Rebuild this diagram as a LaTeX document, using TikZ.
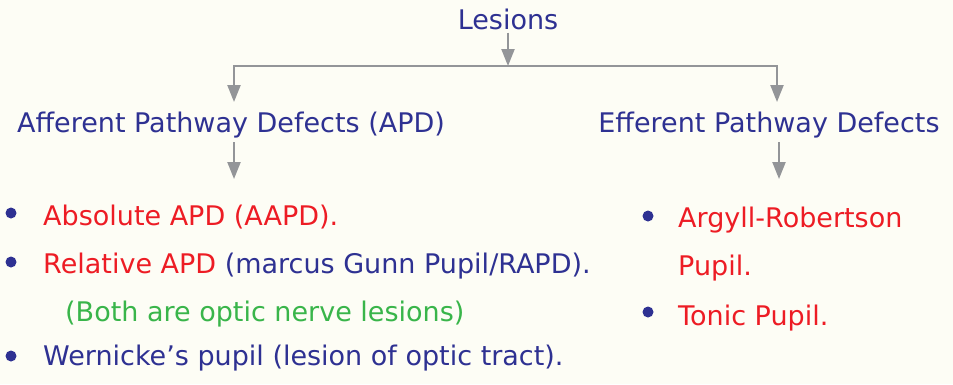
\documentclass[tikz,border=0pt]{standalone}
\usepackage{fontspec}
\setmainfont{DejaVu Sans}
\usetikzlibrary{arrows.meta}

\definecolor{paper}{HTML}{FDFDF5}
\definecolor{inkblue}{HTML}{2E3192}
\definecolor{inkred}{HTML}{ED1C24}
\definecolor{inkgreen}{HTML}{39B54A}
\definecolor{arrowgrey}{HTML}{939598}

\begin{document}
\begin{tikzpicture}[>={Triangle[width=13pt,length=17pt]},
  link/.style={draw=arrowgrey, line width=2.2pt},
  head/.style={text=inkblue, inner sep=0pt, font=\fontsize{27}{32}\selectfont},
  item/.style={anchor=west, inner sep=0pt, text=inkblue, font=\fontsize{27}{32}\selectfont},
  dot/.style={circle, fill=inkblue, minimum size=11pt, inner sep=0pt}]
  \fill[paper] (0pt, 0pt) rectangle (953pt, -384pt);

  % headings
  \draw (508.0pt, -19.0pt)node[head](les){Lesions};
  \draw (231.0pt, -125.0pt)node[head](aff){Afferent Pathway Defects (APD)};
  \draw (769.0pt, -125.0pt)node[head](eff){Efferent Pathway Defects};

  % fork below the top heading
  \coordinate (fork) at (508.0pt, -66.0pt);
  \coordinate (affin) at (234.0pt, -102.0pt);
  \coordinate (effin) at (777.0pt, -102.0pt);
  \coordinate (affout) at (234.0pt, -179.0pt);
  \coordinate (effout) at (779.0pt, -179.0pt);
  \draw[link, ->, shorten <=3pt] (les) -- (fork);
  \draw[link, ->] (fork) -| (affin);
  \draw[link, ->] (fork) -| (effin);
  \draw[link, ->, shorten <=4pt] (aff.south -| affout) -- (affout);
  \draw[link, ->, shorten <=4pt] (eff.south -| effout) -- (effout);

  % afferent list
  \draw (11.0pt, -213.0pt)node[dot](d1){};
  \draw (43.0pt, -217.0pt)node[item, text=inkred](a1){Absolute APD (AAPD).};
  \draw (11.0pt, -262.0pt)node[dot](d2){};
  \draw (43.0pt, -266.0pt)node[item](a2){\textcolor{inkred}{Relative APD} (marcus Gunn Pupil/RAPD).};
  \draw (65.0pt, -314.0pt)node[item, text=inkgreen](a3){(Both are optic nerve lesions)};
  \draw (11.0pt, -356.0pt)node[dot](d3){};
  \draw (43.0pt, -358.0pt)node[item](a4){Wernicke’s pupil (lesion of optic tract).};

  % efferent list
  \draw (648.0pt, -216.0pt)node[dot](d4){};
  \draw (678.0pt, -220.0pt)node[item, text=inkred](e1){Argyll-Robertson};
  \draw (678.0pt, -268.0pt)node[item, text=inkred](e2){Pupil.};
  \draw (648.0pt, -312.0pt)node[dot](d5){};
  \draw (678.0pt, -318.0pt)node[item, text=inkred](e3){Tonic Pupil.};
\end{tikzpicture}
\end{document}
